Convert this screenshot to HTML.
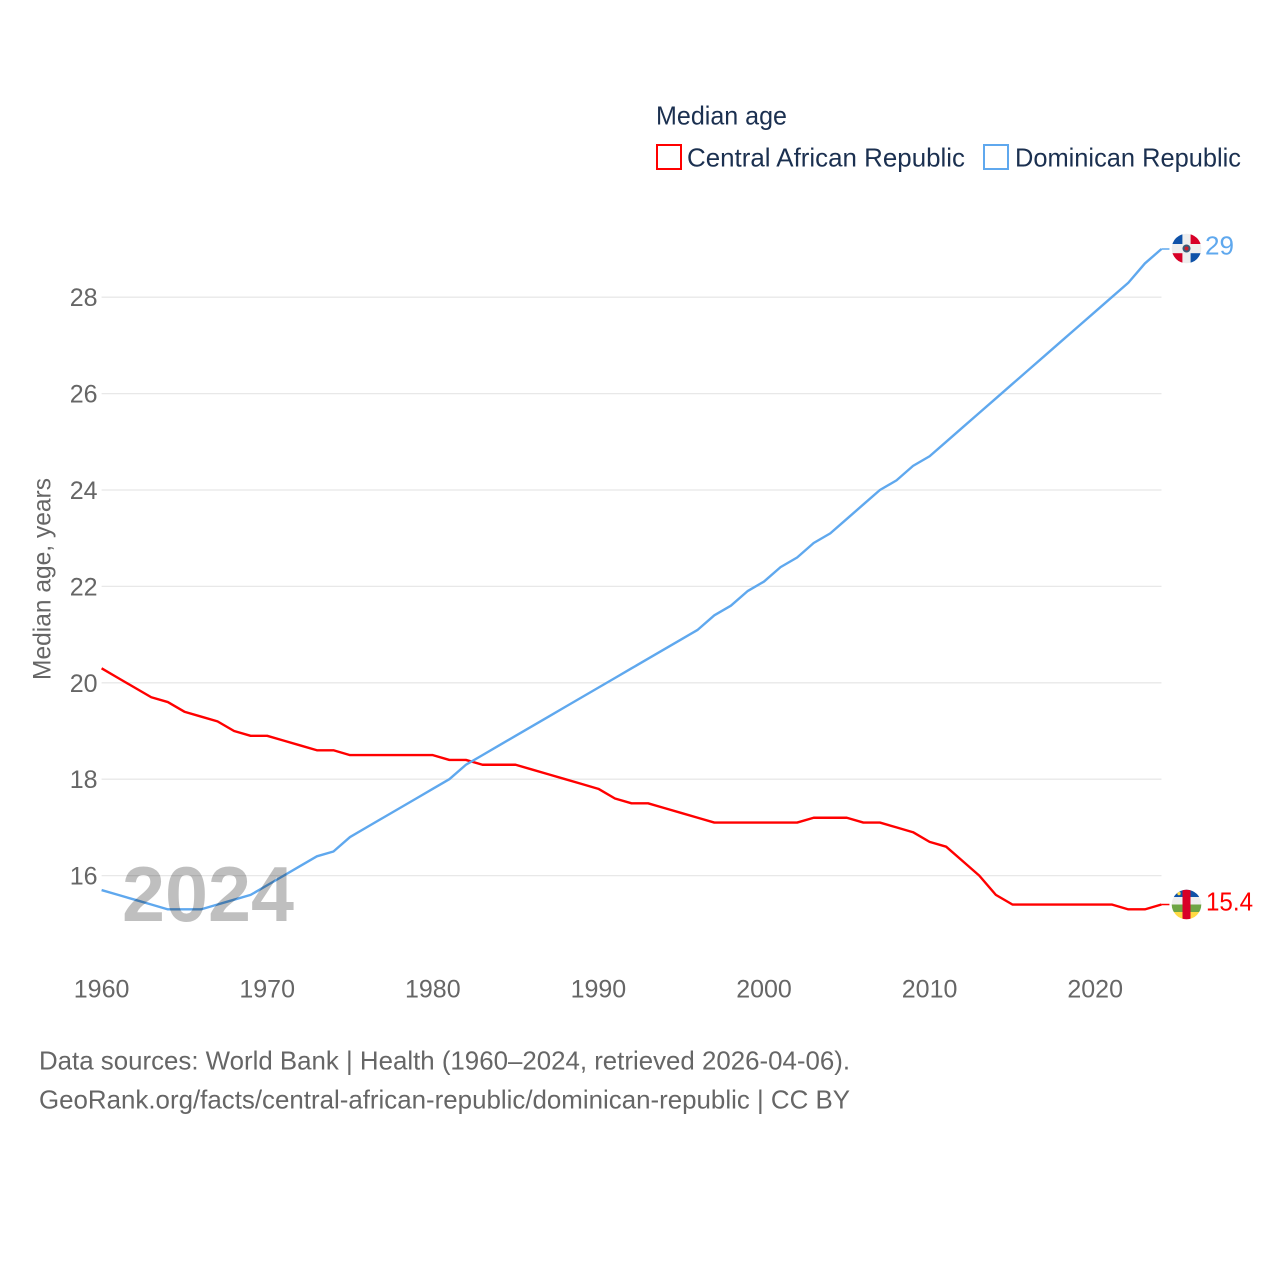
<!DOCTYPE html>
<html lang="en">
<head>
<meta charset="utf-8">
<title>Median age: Central African Republic and Dominican Republic</title>
<style>
html,body{margin:0;padding:0;background:#fff;}
svg{display:block;}
text{font-family:"Liberation Sans",sans-serif;}
</style>
</head>
<body>
<svg id="chart" xmlns="http://www.w3.org/2000/svg" width="1280" height="1280" viewBox="0 0 1280 1280">
  <rect x="0" y="0" width="1280" height="1280" fill="#ffffff"/>

  <g>
    <text x="656" y="124.5" font-size="26" fill="#1b3050" textLength="131" lengthAdjust="spacingAndGlyphs">Median age</text>
    <g>
      <rect x="657" y="145" width="24" height="24" fill="none" stroke="#ff0000" stroke-width="2"/>
      <text x="687" y="166.5" font-size="26" fill="#1b3050" textLength="278" lengthAdjust="spacingAndGlyphs">Central African Republic</text>
    </g>
    <g>
      <rect x="984" y="145" width="24" height="24" fill="none" stroke="#5fa8ee" stroke-width="2"/>
      <text x="1015" y="166.5" font-size="26" fill="#1b3050" textLength="226" lengthAdjust="spacingAndGlyphs">Dominican Republic</text>
    </g>
  </g>

  <text transform="translate(50.5 680) rotate(-90)" x="0" y="0" font-size="25" fill="#666666" textLength="202" lengthAdjust="spacingAndGlyphs">Median age, years</text>

  <g id="grid"></g>
  <g id="yticks"></g>
  <g id="xticks"></g>
  <g id="series"></g>

  <text x="122" y="921" font-size="78" font-weight="700" fill="#000000" fill-opacity="0.25" textLength="172" lengthAdjust="spacingAndGlyphs">2024</text>

  <defs>
    <clipPath id="flag-clip-do"><circle cx="1186.5" cy="248.5" r="14.8"/></clipPath>
    <clipPath id="flag-clip-cf"><circle cx="1186.5" cy="904.5" r="14.8"/></clipPath>
  </defs>

  <g clip-path="url(#flag-clip-do)">
    <rect x="1171" y="233" width="31" height="31" fill="#eeeeee"/>
    <rect x="1171" y="233" width="11.4" height="11" fill="#0f52a8"/>
    <rect x="1190.6" y="233" width="11.4" height="11" fill="#d80027"/>
    <rect x="1171" y="253.2" width="11.4" height="11" fill="#d80027"/>
    <rect x="1190.6" y="253.2" width="11.4" height="11" fill="#0f52a8"/>
    <circle cx="1186.5" cy="248.5" r="4" fill="#3a5a78"/>
    <circle cx="1186.5" cy="248.5" r="2" fill="#c8202c"/>
  </g>
  <g clip-path="url(#flag-clip-cf)">
    <rect x="1171" y="889" width="31" height="8" fill="#0f52a8"/>
    <rect x="1171" y="897" width="31" height="7.5" fill="#eeeeee"/>
    <rect x="1171" y="904.5" width="31" height="7.5" fill="#6da544"/>
    <rect x="1171" y="912" width="31" height="9" fill="#ffda44"/>
    <rect x="1182.5" y="889" width="8" height="32" fill="#d80027"/>
    <circle cx="1179" cy="893.5" r="1.7" fill="#ffda44"/>
  </g>

  <text id="label-do" x="1205" y="254.5" font-size="26" fill="#5fa8ee" textLength="29" lengthAdjust="spacingAndGlyphs"></text>
  <text id="label-cf" x="1206" y="910.5" font-size="26" fill="#ff0000" textLength="47" lengthAdjust="spacingAndGlyphs"></text>

  <g>
    <text x="39" y="1069.5" font-size="26" fill="#666666" textLength="811" lengthAdjust="spacingAndGlyphs">Data sources: World Bank | Health (1960–2024, retrieved 2026-04-06).</text>
    <text x="39" y="1108.5" font-size="26" fill="#666666" textLength="811" lengthAdjust="spacingAndGlyphs">GeoRank.org/facts/central-african-republic/dominican-republic | CC BY</text>
  </g>
</svg>

<script>
const years = [1960,1961,1962,1963,1964,1965,1966,1967,1968,1969,1970,1971,1972,1973,1974,1975,1976,1977,1978,1979,1980,1981,1982,1983,1984,1985,1986,1987,1988,1989,1990,1991,1992,1993,1994,1995,1996,1997,1998,1999,2000,2001,2002,2003,2004,2005,2006,2007,2008,2009,2010,2011,2012,2013,2014,2015,2016,2017,2018,2019,2020,2021,2022,2023,2024];
const centralAfricanRepublic = [20.3,20.1,19.9,19.7,19.6,19.4,19.3,19.2,19.0,18.9,18.9,18.8,18.7,18.6,18.6,18.5,18.5,18.5,18.5,18.5,18.5,18.4,18.4,18.3,18.3,18.3,18.2,18.1,18.0,17.9,17.8,17.6,17.5,17.5,17.4,17.3,17.2,17.1,17.1,17.1,17.1,17.1,17.1,17.2,17.2,17.2,17.1,17.1,17.0,16.9,16.7,16.6,16.3,16.0,15.6,15.4,15.4,15.4,15.4,15.4,15.4,15.4,15.3,15.3,15.4];
const dominicanRepublic = [15.7,15.6,15.5,15.4,15.3,15.3,15.3,15.4,15.5,15.6,15.8,16.0,16.2,16.4,16.5,16.8,17.0,17.2,17.4,17.6,17.8,18.0,18.3,18.5,18.7,18.9,19.1,19.3,19.5,19.7,19.9,20.1,20.3,20.5,20.7,20.9,21.1,21.4,21.6,21.9,22.1,22.4,22.6,22.9,23.1,23.4,23.7,24.0,24.2,24.5,24.7,25.0,25.3,25.6,25.9,26.2,26.5,26.8,27.1,27.4,27.7,28.0,28.3,28.7,29.0];
const yTickValues = [16,18,20,22,24,26,28];
const xTickValues = [1960,1970,1980,1990,2000,2010,2020];

const SVG_NS = 'http://www.w3.org/2000/svg';
function xScale(year){ return 101.6 + (year - 1960) * 16.56; }
function yScale(value){ return 875.6 - (value - 16) * 48.2; }

const gridLayer = document.getElementById('grid');
const yLayer = document.getElementById('yticks');
const xLayer = document.getElementById('xticks');
const seriesLayer = document.getElementById('series');

yTickValues.forEach(function(v){
  const line = document.createElementNS(SVG_NS, 'line');
  
  
  line.setAttribute('x1', xScale(1960));
  line.setAttribute('x2', xScale(2024));
  line.setAttribute('y1', yScale(v));
  line.setAttribute('y2', yScale(v));
  line.setAttribute('stroke', '#e8e8e8');
  line.setAttribute('stroke-width', '1.3');
  gridLayer.appendChild(line);

  const label = document.createElementNS(SVG_NS, 'text');
  
  
  label.setAttribute('x', 97.5);
  label.setAttribute('y', yScale(v) + 9);
  label.setAttribute('text-anchor', 'end');
  label.setAttribute('font-size', '25');
  label.setAttribute('fill', '#666666');
  label.textContent = String(v);
  yLayer.appendChild(label);
});

xTickValues.forEach(function(t){
  const label = document.createElementNS(SVG_NS, 'text');
  
  
  label.setAttribute('x', xScale(t));
  label.setAttribute('y', 997.5);
  label.setAttribute('text-anchor', 'middle');
  label.setAttribute('font-size', '25');
  label.setAttribute('fill', '#666666');
  label.textContent = String(t);
  xLayer.appendChild(label);
});

function pointsFor(values){
  return values.map(function(v, i){
    return xScale(years[i]).toFixed(2) + ',' + yScale(v).toFixed(2);
  }).join(' ');
}

const lineCF = document.createElementNS(SVG_NS, 'polyline');


lineCF.setAttribute('points', pointsFor(centralAfricanRepublic));
lineCF.setAttribute('fill', 'none');
lineCF.setAttribute('stroke', '#ff0000');
lineCF.setAttribute('stroke-width', '2.4');
lineCF.setAttribute('stroke-linejoin', 'round');
seriesLayer.appendChild(lineCF);

const lineDO = document.createElementNS(SVG_NS, 'polyline');


lineDO.setAttribute('points', pointsFor(dominicanRepublic));
lineDO.setAttribute('fill', 'none');
lineDO.setAttribute('stroke', '#5fa8ee');
lineDO.setAttribute('stroke-width', '2.4');
lineDO.setAttribute('stroke-linejoin', 'round');
seriesLayer.appendChild(lineDO);

const lastCF = centralAfricanRepublic[centralAfricanRepublic.length - 1];
const lastDO = dominicanRepublic[dominicanRepublic.length - 1];
const lastYear = years[years.length - 1];

const connectorCF = document.createElementNS(SVG_NS, 'line');


connectorCF.setAttribute('x1', xScale(lastYear));
connectorCF.setAttribute('x2', xScale(lastYear) + 8);
connectorCF.setAttribute('y1', yScale(lastCF));
connectorCF.setAttribute('y2', yScale(lastCF));
connectorCF.setAttribute('stroke', '#ff0000');
connectorCF.setAttribute('stroke-width', '1.5');
seriesLayer.appendChild(connectorCF);

const connectorDO = document.createElementNS(SVG_NS, 'line');


connectorDO.setAttribute('x1', xScale(lastYear));
connectorDO.setAttribute('x2', xScale(lastYear) + 8);
connectorDO.setAttribute('y1', yScale(lastDO));
connectorDO.setAttribute('y2', yScale(lastDO));
connectorDO.setAttribute('stroke', '#5fa8ee');
connectorDO.setAttribute('stroke-width', '1.5');
seriesLayer.appendChild(connectorDO);

document.getElementById('label-do').textContent = String(lastDO);
document.getElementById('label-cf').textContent = String(lastCF);
</script>
</body>
</html>
